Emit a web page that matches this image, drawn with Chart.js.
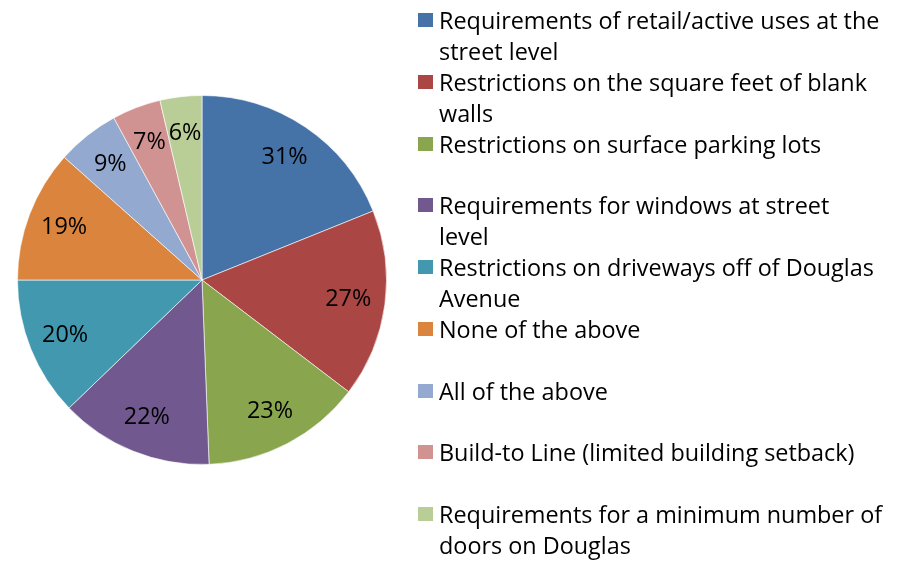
<!DOCTYPE html>
<html>
<head>
<meta charset="utf-8">
<script src="https://cdn.jsdelivr.net/npm/chart.js@4/dist/chart.umd.min.js"></script>
<style>
  body { margin: 0; background: #fff; }
  #wrap { position: relative; width: 902px; height: 561px; overflow: hidden; }
  #pie { position: absolute; left: 0; top: 0; }
  #legend { position: absolute; left: 418px; top: 5px; width: 484px; font-family: "Open Sans", sans-serif; font-size: 23.4px; color: #000; white-space: nowrap; }
  .item { position: relative; height: 61.75px; line-height: 30.9px; padding-left: 21px; }
  .box { position: absolute; left: 0; top: 8px; width: 15px; height: 14px; }
</style>
</head>
<body>
<div id="wrap">
  <canvas id="pie" width="902" height="561"></canvas>
  <div id="legend"></div>
</div>
<script>
// category names, split into the lines shown in the legend
const labels = [
    ['Requirements of retail/active uses at the', 'street level'],
    ['Restrictions on the square feet of blank', 'walls'],
    ['Restrictions on surface parking lots'],
    ['Requirements for windows at street', 'level'],
    ['Restrictions on driveways off of Douglas', 'Avenue'],
    ['None of the above'],
    ['All of the above'],
    ['Build-to Line (limited building setback)'],
    ['Requirements for a minimum number of', 'doors on Douglas']
];
const percents = [31, 27, 23, 22, 20, 19, 9, 7, 6];
const colors = ['#4572A7', '#AA4643', '#89A54E', '#71588F', '#4198AF', '#DB843D', '#93A9CF', '#D19392', '#B9CD96'];

// percent labels drawn inside each slice, like the spreadsheet version
const sliceLabels = {
    id: 'sliceLabels',
    afterDatasetsDraw(chart) {
        const ctx = chart.ctx;
        const meta = chart.getDatasetMeta(0);
        ctx.save();
        ctx.font = '23.4px "Open Sans", sans-serif';
        ctx.fillStyle = '#000';
        ctx.textAlign = 'center';
        ctx.textBaseline = 'middle';
        meta.data.forEach((arc, i) => {
            const mid = (arc.startAngle + arc.endAngle) / 2;
            const r = arc.outerRadius * 0.8;
            ctx.fillText(percents[i] + '%', arc.x + Math.cos(mid) * r, arc.y + Math.sin(mid) * r);
        });
        ctx.restore();
    }
};

const ctxPie = document.getElementById('pie').getContext('2d');
const pieChart = new Chart(ctxPie, {
    type: 'pie',
    data: {
        labels: labels,
        datasets: [{
            data: percents,
            backgroundColor: colors,
            borderColor: 'rgba(255,255,255,0.6)',
            borderWidth: 1
        }]
    },
    options: {
        responsive: false,
        animation: false,
        layout: { padding: { left: 17, top: 95, right: 515, bottom: 96 } },
        plugins: {
            legend: { display: false },
            tooltip: { enabled: false }
        }
    },
    plugins: [sliceLabels]
});

// legend on the right
const legendEl = document.getElementById('legend');
labels.forEach((lines, i) => {
    const item = document.createElement('div');
    item.className = 'item';
    const box = document.createElement('span');
    box.className = 'box';
    box.style.background = colors[i];
    item.appendChild(box);
    lines.forEach((line, j) => {
        if (j > 0) item.appendChild(document.createElement('br'));
        item.appendChild(document.createTextNode(line));
    });
    legendEl.appendChild(item);
});
</script>
</body>
</html>
